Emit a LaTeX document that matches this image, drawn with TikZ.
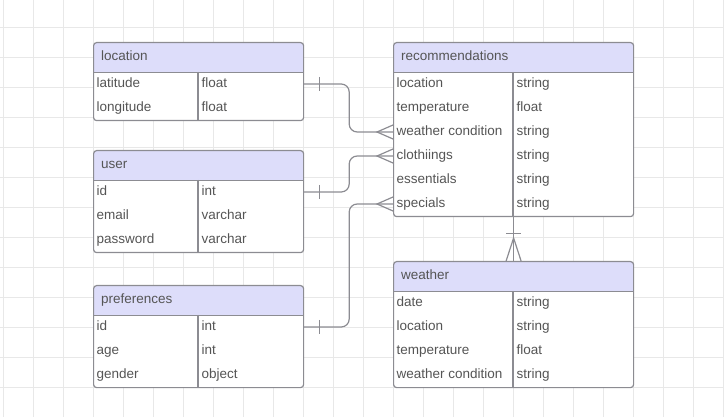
\documentclass[tikz,border=0pt]{standalone}
\usepackage{fontspec}
\setmainfont{Liberation Sans}
\definecolor{headfill}{RGB}{221,221,250}
\definecolor{edge}{RGB}{140,140,146}
\definecolor{ink}{RGB}{85,85,85}
\definecolor{gridc}{RGB}{232,232,232}
\begin{document}
\begin{tikzpicture}[x=1pt,y=-1pt,
		tbl/.style={draw=edge,fill=white,line width=1.2pt,rounded corners=3pt,anchor=north west,inner sep=0pt,
			path picture={\fill[headfill,sharp corners] (path picture bounding box.north west) rectangle ([yshift=-30pt]path picture bounding box.north east);
				\draw[edge,line width=1.2pt] ([yshift=-30pt]path picture bounding box.north west) -- ([yshift=-30pt]path picture bounding box.north east);}},
		hdr/.style={anchor=west,inner sep=0pt,text=ink,font=\fontsize{13.5}{16}\selectfont,text height=10pt,text depth=3pt},
		fld/.style={hdr},
		rel/.style={draw=edge,line width=1.2pt},
		gridline/.style={draw=gridc,line width=0.8pt}]
	\useasboundingbox (0,0) rectangle (724,417);
	% grid
	\foreach \x in {3,33,...,723} \draw[gridline] (\x,0) -- (\x,417);
	\foreach \y in {27,57,...,417} \draw[gridline] (0,\y) -- (724,\y);
	
	% location
	\node[tbl,minimum width=210pt,minimum height=78pt] (loc) at (93,42) {};
	\draw[rel] ([xshift=105pt,yshift=-30pt]loc.north west) -- ([xshift=105pt]loc.south west);
	\node[hdr] (loc-h) at ([xshift=8pt,yshift=-15pt]loc.north west) {location};
	\node[fld] (loc-lat) at ([xshift=3.5pt,yshift=-42pt]loc.north west) {latitude};
	\node[fld] (loc-lat-t) at ([xshift=108.5pt,yshift=-42pt]loc.north west) {float};
	\node[fld] (loc-lon) at ([xshift=3.5pt,yshift=-66pt]loc.north west) {longitude};
	\node[fld] (loc-lon-t) at ([xshift=108.5pt,yshift=-66pt]loc.north west) {float};
	
	% user
	\node[tbl,minimum width=210pt,minimum height=102pt] (usr) at (93,150) {};
	\draw[rel] ([xshift=105pt,yshift=-30pt]usr.north west) -- ([xshift=105pt]usr.south west);
	\node[hdr] (usr-h) at ([xshift=8pt,yshift=-15pt]usr.north west) {user};
	\node[fld] (usr-id) at ([xshift=3.5pt,yshift=-42pt]usr.north west) {id};
	\node[fld] (usr-id-t) at ([xshift=108.5pt,yshift=-42pt]usr.north west) {int};
	\node[fld] (usr-mail) at ([xshift=3.5pt,yshift=-66pt]usr.north west) {email};
	\node[fld] (usr-mail-t) at ([xshift=108.5pt,yshift=-66pt]usr.north west) {varchar};
	\node[fld] (usr-pw) at ([xshift=3.5pt,yshift=-90pt]usr.north west) {password};
	\node[fld] (usr-pw-t) at ([xshift=108.5pt,yshift=-90pt]usr.north west) {varchar};
	
	% preferences
	\node[tbl,minimum width=210pt,minimum height=102pt] (pref) at (93,285) {};
	\draw[rel] ([xshift=105pt,yshift=-30pt]pref.north west) -- ([xshift=105pt]pref.south west);
	\node[hdr] (pref-h) at ([xshift=8pt,yshift=-15pt]pref.north west) {preferences};
	\node[fld] (pref-id) at ([xshift=3.5pt,yshift=-42pt]pref.north west) {id};
	\node[fld] (pref-id-t) at ([xshift=108.5pt,yshift=-42pt]pref.north west) {int};
	\node[fld] (pref-age) at ([xshift=3.5pt,yshift=-66pt]pref.north west) {age};
	\node[fld] (pref-age-t) at ([xshift=108.5pt,yshift=-66pt]pref.north west) {int};
	\node[fld] (pref-gen) at ([xshift=3.5pt,yshift=-90pt]pref.north west) {gender};
	\node[fld] (pref-gen-t) at ([xshift=108.5pt,yshift=-90pt]pref.north west) {object};
	
	% recommendations
	\node[tbl,minimum width=240pt,minimum height=174pt] (rec) at (393,42) {};
	\draw[rel] ([xshift=120pt,yshift=-30pt]rec.north west) -- ([xshift=120pt]rec.south west);
	\node[hdr] (rec-h) at ([xshift=8pt,yshift=-15pt]rec.north west) {recommendations};
	\node[fld] (rec-loc) at ([xshift=3.5pt,yshift=-42pt]rec.north west) {location};
	\node[fld] (rec-loc-t) at ([xshift=123.5pt,yshift=-42pt]rec.north west) {string};
	\node[fld] (rec-temp) at ([xshift=3.5pt,yshift=-66pt]rec.north west) {temperature};
	\node[fld] (rec-temp-t) at ([xshift=123.5pt,yshift=-66pt]rec.north west) {float};
	\node[fld] (rec-wc) at ([xshift=3.5pt,yshift=-90pt]rec.north west) {weather condition};
	\node[fld] (rec-wc-t) at ([xshift=123.5pt,yshift=-90pt]rec.north west) {string};
	\node[fld] (rec-cl) at ([xshift=3.5pt,yshift=-114pt]rec.north west) {clothiings};
	\node[fld] (rec-cl-t) at ([xshift=123.5pt,yshift=-114pt]rec.north west) {string};
	\node[fld] (rec-ess) at ([xshift=3.5pt,yshift=-138pt]rec.north west) {essentials};
	\node[fld] (rec-ess-t) at ([xshift=123.5pt,yshift=-138pt]rec.north west) {string};
	\node[fld] (rec-sp) at ([xshift=3.5pt,yshift=-162pt]rec.north west) {specials};
	\node[fld] (rec-sp-t) at ([xshift=123.5pt,yshift=-162pt]rec.north west) {string};
	
	% weather
	\node[tbl,minimum width=240pt,minimum height=126pt] (wea) at (393,261) {};
	\draw[rel] ([xshift=120pt,yshift=-30pt]wea.north west) -- ([xshift=120pt]wea.south west);
	\node[hdr] (wea-h) at ([xshift=8pt,yshift=-15pt]wea.north west) {weather};
	\node[fld] (wea-date) at ([xshift=3.5pt,yshift=-42pt]wea.north west) {date};
	\node[fld] (wea-date-t) at ([xshift=123.5pt,yshift=-42pt]wea.north west) {string};
	\node[fld] (wea-loc) at ([xshift=3.5pt,yshift=-66pt]wea.north west) {location};
	\node[fld] (wea-loc-t) at ([xshift=123.5pt,yshift=-66pt]wea.north west) {string};
	\node[fld] (wea-temp) at ([xshift=3.5pt,yshift=-90pt]wea.north west) {temperature};
	\node[fld] (wea-temp-t) at ([xshift=123.5pt,yshift=-90pt]wea.north west) {float};
	\node[fld] (wea-wc) at ([xshift=3.5pt,yshift=-114pt]wea.north west) {weather condition};
	\node[fld] (wea-wc-t) at ([xshift=123.5pt,yshift=-114pt]wea.north west) {string};
	
	% relations
	\draw[rel,rounded corners=8pt] (loc-lat -| loc.east) -- ++(45,0) |- (rec-wc -| rec.west);
	\draw[rel] (loc-lat -| loc.east) ++(15,-7) -- ++(0,14);
	\draw[rel] (rec-wc -| rec.west) ++(0,-7) -- ++(-16,7) -- ++(16,7);
	
	\draw[rel,rounded corners=8pt] (usr-id -| usr.east) -- ++(45,0) |- (rec-cl -| rec.west);
	\draw[rel] (usr-id -| usr.east) ++(15,-7) -- ++(0,14);
	\draw[rel] (rec-cl -| rec.west) ++(0,-7) -- ++(-16,7) -- ++(16,7);
	
	\draw[rel,rounded corners=8pt] (pref-id -| pref.east) -- ++(45,0) |- (rec-sp -| rec.west);
	\draw[rel] (pref-id -| pref.east) ++(15,-7) -- ++(0,14);
	\draw[rel] (rec-sp -| rec.west) ++(0,-7) -- ++(-16,7) -- ++(16,7);
	
	\draw[rel] (rec.south) -- (wea.north);
	\draw[rel] (rec.south) ++(-7.5,16) -- ++(15,0);
	\draw[rel] (wea.north) ++(-7.5,0) -- ++(7.5,-23) -- ++(7.5,23);
\end{tikzpicture}
\end{document}
